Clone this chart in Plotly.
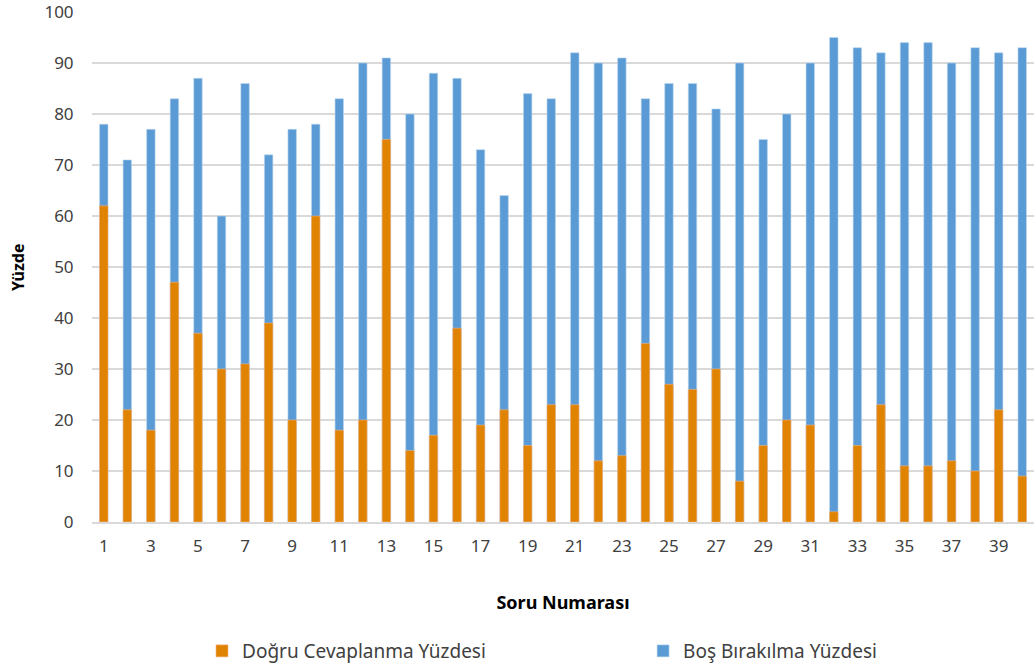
import plotly.graph_objects as go

questions = list(range(1, 41))
dogru = [62, 22, 18, 47, 37, 30, 31, 39, 20, 60,
         18, 20, 75, 14, 17, 38, 19, 22, 15, 23,
         23, 12, 13, 35, 27, 26, 30, 8, 15, 20,
         19, 2, 15, 23, 11, 11, 12, 10, 22, 9]
bos = [78, 71, 77, 83, 87, 60, 86, 72, 77, 78,
       83, 90, 91, 80, 88, 87, 73, 64, 84, 83,
       92, 90, 91, 83, 86, 86, 81, 90, 75, 80,
       90, 95, 93, 92, 94, 94, 90, 93, 92, 93]
x_ticks = list(range(1, 40, 2))
y_ticks = list(range(0, 101, 10))

FONT = "Noto Sans"
fig = go.Figure()
fig.add_trace(go.Bar(
    x=questions, y=bos, name="Boş Bırakılma Yüzdesi",
    marker=dict(color="#5B9BD5", line=dict(color="#BDD7EE", width=0.6)),
    width=0.36, legend="legend2",
))
fig.add_trace(go.Bar(
    x=questions, y=dogru, name="Doğru Cevaplanma Yüzdesi",
    marker=dict(color="#E08300", line=dict(color="#F4B183", width=0.6)),
    width=0.36, legend="legend",
))
legend_common = dict(orientation="h", xanchor="left", y=-0.253, yanchor="middle",
                     font=dict(size=19, color="#404040"), bgcolor="rgba(0,0,0,0)")
fig.update_layout(
    barmode="overlay",
    width=1036, height=670,
    margin=dict(l=92, r=2, t=12, b=148, autoexpand=False),
    plot_bgcolor="white", paper_bgcolor="white",
    font=dict(family=FONT, size=17, color="#404040"),
    xaxis=dict(
        range=[0.5, 40.5], tickvals=x_ticks, ticktext=[str(v) for v in x_ticks],
        showgrid=False, showline=True, linecolor="#D9D9D9", linewidth=1.5,
        ticks="outside", ticklen=8, tickcolor="rgba(0,0,0,0)",
        tickfont=dict(size=17, color="#404040"), ticklabeloverflow="allow",
        title=dict(text="<b>Soru Numarası</b>", font=dict(size=18, color="#000000"), standoff=40),
    ),
    yaxis=dict(
        range=[0, 100], tickvals=y_ticks, showgrid=True, gridcolor="#D9D9D9", gridwidth=1.5,
        zeroline=False, ticks="outside", ticklen=14, tickcolor="rgba(0,0,0,0)",
        tickfont=dict(size=17, color="#404040"), ticklabeloverflow="allow",
    ),
    annotations=[dict(
        text="<b>Yüzde</b>", textangle=-90, xref="paper", yref="paper",
        x=-0.0786, y=0.5, xanchor="center", yanchor="middle", showarrow=False,
        font=dict(size=16, color="#000000"),
    )],
    legend=dict(x=0.1168, **legend_common),
    legend2=dict(x=0.585, **legend_common),
    showlegend=True,
)
fig.write_html("out.html", config={"displayModeBar": False},
               post_script="document.body.style.margin='0';")
